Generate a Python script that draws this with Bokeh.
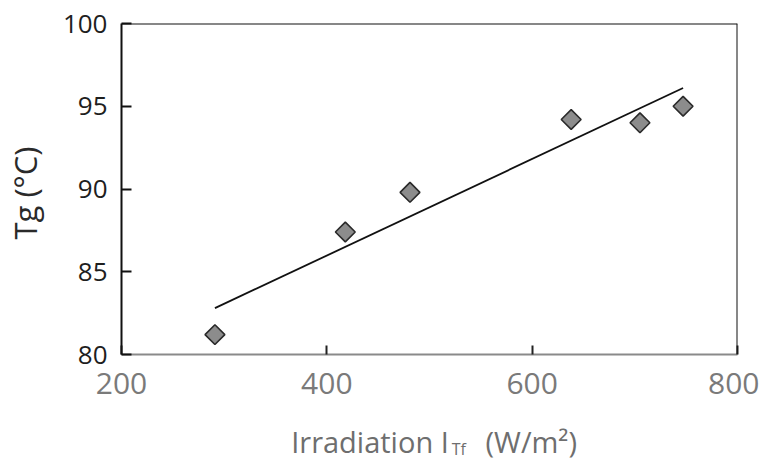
import math
from bokeh.plotting import figure
from bokeh.layouts import column
from bokeh.models import Range1d, FixedTicker, Span
from bokeh.core.properties import value
from bokeh.embed import file_html
from bokeh.resources import INLINE

# Data
irradiation = [291, 418, 481, 638, 705, 747]      # W/m^2
tg_values = [81.2, 87.4, 89.8, 94.2, 94.0, 95.0]  # deg C
trend_x = [291, 747]
trend_y = [82.8, 96.1]
x_ticks = [200, 400, 600, 800]
y_ticks = [80, 85, 90, 95, 100]
x_title_parts = ["Irradiation I", "Tf", "(W/m²)"]

FONT = "Open Sans"
W = 759
LEFT, RIGHT = 116, 22

p = figure(width=W, height=410, output_backend="svg", toolbar_location=None,
           x_range=Range1d(200, 800), y_range=Range1d(80, 100),
           min_border_left=LEFT, min_border_right=RIGHT, min_border_top=23, min_border_bottom=56)
p.background_fill_color = "white"
p.border_fill_color = "white"
p.outline_line_color = None
p.grid.visible = False

xa = p.xaxis[0]
xa.ticker = FixedTicker(ticks=x_ticks)
xa.minor_tick_line_color = None
xa.major_tick_in = 9
xa.major_tick_out = 0
xa.major_tick_line_color = "#222222"
xa.major_tick_line_width = 2
xa.axis_line_color = "#8a8a8a"
xa.axis_line_width = 2
xa.major_label_text_font = FONT
xa.major_label_text_font_size = "30px"
xa.major_label_text_color = "#7a7a7a"
xa.major_label_standoff = 18

ya = p.yaxis[0]
ya.ticker = FixedTicker(ticks=y_ticks)
ya.minor_tick_line_color = None
ya.major_tick_in = 10
ya.major_tick_out = 0
ya.major_tick_line_color = "#111111"
ya.major_tick_line_width = 2
ya.axis_line_color = "#111111"
ya.axis_line_width = 2
ya.major_label_text_font = FONT
ya.major_label_text_font_size = "26px"
ya.major_label_text_color = "#1e1e1e"
ya.major_label_standoff = 14
ya.axis_label = "Tg  (°C)"
ya.axis_label_text_font = FONT
ya.axis_label_text_font_size = "31px"
ya.axis_label_text_font_style = "normal"
ya.axis_label_text_color = "#2a2a2a"
ya.axis_label_standoff = 14

# top and right frame lines
p.add_layout(Span(location=100, dimension="width", line_color="#111111", line_width=2))
p.add_layout(Span(location=800, dimension="height", line_color="#111111", line_width=2))

# trend line and points
p.line(trend_x, trend_y, line_color="#111111", line_width=1.8)
p.scatter(irradiation, tg_values, marker="square", angle=math.pi / 4, size=14,
          fill_color="#8c8c8c", line_color="#2a2a2a", line_width=1.6)

# strip below for the x axis title (with subscript)
p2 = figure(width=W, height=56, output_backend="svg", toolbar_location=None,
            x_range=Range1d(200, 800), y_range=Range1d(0, 56),
            x_axis_type=None, y_axis_type=None,
            min_border_left=LEFT, min_border_right=RIGHT, min_border_top=0, min_border_bottom=0)
p2.outline_line_color = None
p2.grid.visible = False
p2.background_fill_color = "white"
p2.border_fill_color = "white"

title_color = "#6e6e6e"
p2.text(x=[518.8], y=[25.5], text=[x_title_parts[0]], text_align="right",
        text_baseline="middle", text_font=value(FONT), text_font_size="29px",
        text_color=title_color)
p2.text(x=[521.7], y=[17.5], text=[x_title_parts[1]], text_align="left",
        text_baseline="middle", text_font=value(FONT), text_font_size="16px",
        text_color=title_color)
p2.text(x=[554.6], y=[25.5], text=[x_title_parts[2]], text_align="left",
        text_baseline="middle", text_font=value(FONT), text_font_size="29px",
        text_color=title_color)

layout = column(p, p2, spacing=0)
open("out.html", "w").write(file_html(layout, INLINE))
